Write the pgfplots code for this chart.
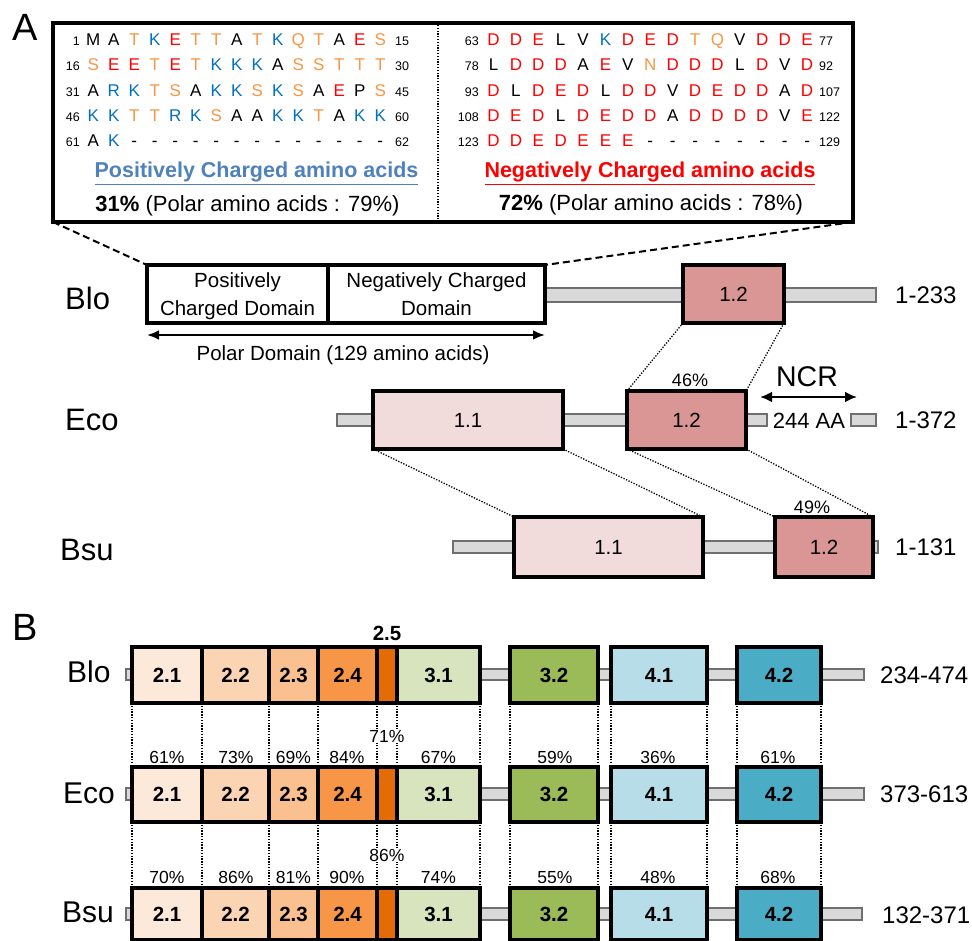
\documentclass[border=0pt]{standalone}
\usepackage{pgfplots}
\pgfplotsset{compat=1.18}
\usepackage{fontspec}
\setmainfont{Liberation Sans}
\usetikzlibrary{arrows.meta}
\definecolor{c11}{HTML}{F2DCDB}
\definecolor{c12}{HTML}{D99694}
\definecolor{c21}{HTML}{FDE9D9}
\definecolor{c22}{HTML}{FBD4B4}
\definecolor{c23}{HTML}{FAC090}
\definecolor{c24}{HTML}{F79646}
\definecolor{c25}{HTML}{E36C09}
\definecolor{c31}{HTML}{D7E4BD}
\definecolor{c32}{HTML}{9BBB59}
\definecolor{c41}{HTML}{B7DEE8}
\definecolor{c42}{HTML}{4BACC6}
\definecolor{barfill}{HTML}{D9D9D9}
\definecolor{bardraw}{HTML}{6F6F6F}
\definecolor{aaR}{HTML}{FF0000}
\definecolor{aaB}{HTML}{0070C0}
\definecolor{aaO}{HTML}{F79646}
\definecolor{headB}{HTML}{4F81BD}
\newcommand{\fs}[1]{\fontsize{#1}{#1}\selectfont}
\newlength\sw
\newcommand{\sK}[1]{\makebox[\sw][c]{\color{black}#1}}
\newcommand{\sR}[1]{\makebox[\sw][c]{\color{aaR}#1}}
\newcommand{\sB}[1]{\makebox[\sw][c]{\color{aaB}#1}}
\newcommand{\sO}[1]{\makebox[\sw][c]{\color{aaO}#1}}
\newcommand{\rect}[5]{\addplot[#5] coordinates {(#1,#3) (#2,#3) (#2,#4) (#1,#4)} --cycle;}
\pgfplotsset{
  boxst/.style={draw=black, line width=3.6pt, line join=miter, mark=none},
  barst/.style={draw=bardraw, fill=barfill, line width=1.3pt, mark=none},
  dotst/.style={draw=black, line width=1.3pt, dash pattern=on 1.3pt off 1.5pt, mark=none},
  dashst/.style={draw=black, line width=2pt, dash pattern=on 7pt off 4pt, mark=none},
}
\begin{document}
\begin{tikzpicture}
\begin{axis}[scale only axis, width=972pt, height=941pt,
  xmin=0, xmax=972, ymin=0, ymax=941, y dir=reverse, hide axis, clip=false]
% ================= Panel A =================
\node[font=\fs{38}, anchor=base west] at (axis cs:9,41) {A};
% top sequence box
\rect{53}{853}{23}{222}{boxst, fill=white}
\addplot[dotst] coordinates {(438,25) (438,220)};
% dashed connectors
\addplot[dashst] coordinates {(53,222) (147,265)};
\addplot[dashst] coordinates {(853,222) (545,265)};
% left sequence
\node[anchor=base west, font=\fs{17}, inner sep=0] at (axis cs:82.75,45.5) {\setlength\sw{20.5pt}\sK{M}\sK{A}\sO{T}\sB{K}\sR{E}\sO{T}\sO{T}\sK{A}\sO{T}\sB{K}\sO{Q}\sO{T}\sK{A}\sR{E}\sO{S}};
\node[anchor=base west, font=\fs{17}, inner sep=0] at (axis cs:82.75,70.8) {\setlength\sw{20.5pt}\sO{S}\sR{E}\sR{E}\sO{T}\sR{E}\sO{T}\sB{K}\sB{K}\sB{K}\sK{A}\sO{S}\sO{S}\sO{T}\sO{T}\sO{T}};
\node[anchor=base west, font=\fs{17}, inner sep=0] at (axis cs:82.75,96.1) {\setlength\sw{20.5pt}\sK{A}\sB{R}\sB{K}\sO{T}\sO{S}\sK{A}\sB{K}\sB{K}\sO{S}\sB{K}\sO{S}\sK{A}\sR{E}\sK{P}\sO{S}};
\node[anchor=base west, font=\fs{17}, inner sep=0] at (axis cs:82.75,121.4) {\setlength\sw{20.5pt}\sB{K}\sB{K}\sO{T}\sO{T}\sB{R}\sB{K}\sO{S}\sK{A}\sK{A}\sB{K}\sB{K}\sO{T}\sK{A}\sB{K}\sB{K}};
\node[anchor=base west, font=\fs{17}, inner sep=0] at (axis cs:82.75,146.7) {\setlength\sw{20.5pt}\sK{A}\sB{K}\sK{-}\sK{-}\sK{-}\sK{-}\sK{-}\sK{-}\sK{-}\sK{-}\sK{-}\sK{-}\sK{-}\sK{-}\sK{-}};
\node[anchor=base east, font=\fs{12.5}, inner sep=0] at (axis cs:80,45.5) {1};
\node[anchor=base east, font=\fs{12.5}, inner sep=0] at (axis cs:80,70.8) {16};
\node[anchor=base east, font=\fs{12.5}, inner sep=0] at (axis cs:80,96.1) {31};
\node[anchor=base east, font=\fs{12.5}, inner sep=0] at (axis cs:80,121.4) {46};
\node[anchor=base east, font=\fs{12.5}, inner sep=0] at (axis cs:80,146.7) {61};
\node[anchor=base west, font=\fs{12.5}, inner sep=0] at (axis cs:395,45.5) {15};
\node[anchor=base west, font=\fs{12.5}, inner sep=0] at (axis cs:395,70.8) {30};
\node[anchor=base west, font=\fs{12.5}, inner sep=0] at (axis cs:395,96.1) {45};
\node[anchor=base west, font=\fs{12.5}, inner sep=0] at (axis cs:395,121.4) {60};
\node[anchor=base west, font=\fs{12.5}, inner sep=0] at (axis cs:395,146.7) {62};
% right sequence
\node[anchor=base west, font=\fs{17}, inner sep=0] at (axis cs:482.1,45.5) {\setlength\sw{22.4pt}\sR{D}\sR{D}\sR{E}\sK{L}\sK{V}\sB{K}\sR{D}\sR{E}\sR{D}\sO{T}\sO{Q}\sK{V}\sR{D}\sR{D}\sR{E}};
\node[anchor=base west, font=\fs{17}, inner sep=0] at (axis cs:482.1,70.8) {\setlength\sw{22.4pt}\sK{L}\sR{D}\sR{D}\sR{D}\sK{A}\sR{E}\sK{V}\sO{N}\sR{D}\sR{D}\sR{D}\sK{L}\sR{D}\sK{V}\sR{D}};
\node[anchor=base west, font=\fs{17}, inner sep=0] at (axis cs:482.1,96.1) {\setlength\sw{22.4pt}\sR{D}\sK{L}\sR{D}\sR{E}\sR{D}\sK{L}\sR{D}\sR{D}\sK{V}\sR{D}\sR{E}\sR{D}\sR{D}\sK{A}\sR{D}};
\node[anchor=base west, font=\fs{17}, inner sep=0] at (axis cs:482.1,121.4) {\setlength\sw{22.4pt}\sR{D}\sR{E}\sR{D}\sK{L}\sR{D}\sR{E}\sR{D}\sR{D}\sK{A}\sR{D}\sR{D}\sR{D}\sR{D}\sK{V}\sR{E}};
\node[anchor=base west, font=\fs{17}, inner sep=0] at (axis cs:482.1,146.7) {\setlength\sw{22.4pt}\sR{D}\sR{D}\sR{E}\sR{D}\sR{E}\sR{E}\sR{E}\sK{-}\sK{-}\sK{-}\sK{-}\sK{-}\sK{-}\sK{-}\sK{-}};
\node[anchor=base east, font=\fs{12.5}, inner sep=0] at (axis cs:479,45.5) {63};
\node[anchor=base east, font=\fs{12.5}, inner sep=0] at (axis cs:479,70.8) {78};
\node[anchor=base east, font=\fs{12.5}, inner sep=0] at (axis cs:479,96.1) {93};
\node[anchor=base east, font=\fs{12.5}, inner sep=0] at (axis cs:479,121.4) {108};
\node[anchor=base east, font=\fs{12.5}, inner sep=0] at (axis cs:479,146.7) {123};
\node[anchor=base west, font=\fs{12.5}, inner sep=0] at (axis cs:819,45.5) {77};
\node[anchor=base west, font=\fs{12.5}, inner sep=0] at (axis cs:819,70.8) {92};
\node[anchor=base west, font=\fs{12.5}, inner sep=0] at (axis cs:819,96.1) {107};
\node[anchor=base west, font=\fs{12.5}, inner sep=0] at (axis cs:819,121.4) {122};
\node[anchor=base west, font=\fs{12.5}, inner sep=0] at (axis cs:819,146.7) {129};
% headings
\node[anchor=base, font=\fs{21.5}\bfseries, text=headB, inner sep=0] at (axis cs:256.5,178) {\underline{Positively Charged amino acids}};
\node[anchor=base, font=\fs{21.5}\bfseries, text=aaR, inner sep=0] at (axis cs:650,178) {\underline{Negatively Charged amino acids}};
\node[anchor=base, font=\fs{22}, inner sep=0] at (axis cs:247.5,211.5) {\textbf{31\%} (Polar amino acids : 79\%)};
\node[anchor=base, font=\fs{22}, inner sep=0] at (axis cs:651,210.5) {\textbf{72\%} (Polar amino acids : 78\%)};
% Blo row (A)
\node[anchor=base west, font=\fs{31}, inner sep=0] at (axis cs:65,310) {Blo};
\rect{545}{876}{288}{302}{barst}
\rect{147}{328}{265}{323}{boxst, fill=white}
\rect{328}{545}{265}{323}{boxst, fill=white}
\node[anchor=base, font=\fs{20.5}, inner sep=0] at (axis cs:237.5,288) {Positively};
\node[anchor=base, font=\fs{20.5}, inner sep=0] at (axis cs:237.5,316) {Charged Domain};
\node[anchor=base, font=\fs{20.5}, inner sep=0] at (axis cs:436.5,288) {Negatively Charged};
\node[anchor=base, font=\fs{20.5}, inner sep=0] at (axis cs:436.5,316) {Domain};
\addplot[draw=black, line width=2.4pt, mark=none, {Latex[length=12pt,width=10pt]}-{Latex[length=12pt,width=10pt]}] coordinates {(147,335) (545,335)};
\node[anchor=base, font=\fs{20.5}, inner sep=0] at (axis cs:343,360) {Polar Domain (129 amino acids)};
\rect{683}{784}{265}{323}{boxst, fill=c12}
\node[font=\fs{20.5}] at (axis cs:733.5,294) {1.2};
\node[anchor=west, font=\fs{24}, inner sep=0] at (axis cs:895,295) {1-233};
% connectors Blo -> Eco
\addplot[dotst] coordinates {(683,323) (627,391)};
\addplot[dotst] coordinates {(784,323) (746,391)};
% Eco row (A)
\node[anchor=base west, font=\fs{31}, inner sep=0] at (axis cs:65,430.5) {Eco};
\rect{337}{767}{414}{426}{barst}
\rect{851}{876}{414}{426}{barst}
\rect{373}{563}{391}{449}{boxst, fill=c11}
\node[font=\fs{20.5}] at (axis cs:468,420) {1.1};
\rect{627}{746}{391}{449}{boxst, fill=c12}
\node[font=\fs{20.5}] at (axis cs:686.5,420) {1.2};
\node[font=\fs{18}] at (axis cs:690,380) {46\%};
\node[font=\fs{28.5}] at (axis cs:807,377) {NCR};
\addplot[draw=black, line width=2.4pt, mark=none, {Latex[length=12pt,width=11pt]}-{Latex[length=12pt,width=11pt]}] coordinates {(760,397) (857,397)};
\node[font=\fs{22}] at (axis cs:809,421) {244 AA};
\node[anchor=west, font=\fs{24}, inner sep=0] at (axis cs:895,420) {1-372};
% connectors Eco -> Bsu
\addplot[dotst] coordinates {(373,449) (514,517)};
\addplot[dotst] coordinates {(563,449) (703,517)};
\addplot[dotst] coordinates {(627,449) (775,517)};
\addplot[dotst] coordinates {(746,449) (873,517)};
% Bsu row (A)
\node[anchor=base west, font=\fs{31}, inner sep=0] at (axis cs:60,560) {Bsu};
\rect{453}{878}{541}{553}{barst}
\rect{514}{703}{517}{577}{boxst, fill=c11}
\node[font=\fs{20.5}] at (axis cs:608.5,547) {1.1};
\rect{775}{873}{517}{577}{boxst, fill=c12}
\node[font=\fs{20.5}] at (axis cs:824,547) {1.2};
\node[font=\fs{18}] at (axis cs:812,507) {49\%};
\node[anchor=west, font=\fs{24}, inner sep=0] at (axis cs:895,547) {1-131};
% ================= Panel B =================
\node[font=\fs{38}, anchor=base west] at (axis cs:9,640) {B};
% vertical dotted connectors
\addplot[dotst] coordinates {(132,703) (132,767)};
\addplot[dotst] coordinates {(202,703) (202,767)};
\addplot[dotst] coordinates {(269,703) (269,767)};
\addplot[dotst] coordinates {(318,703) (318,767)};
\addplot[dotst] coordinates {(377,703) (377,767)};
\addplot[dotst] coordinates {(397,703) (397,767)};
\addplot[dotst] coordinates {(480,703) (480,767)};
\addplot[dotst] coordinates {(510,703) (510,767)};
\addplot[dotst] coordinates {(598,703) (598,767)};
\addplot[dotst] coordinates {(611,703) (611,767)};
\addplot[dotst] coordinates {(707,703) (707,767)};
\addplot[dotst] coordinates {(737,703) (737,767)};
\addplot[dotst] coordinates {(821,703) (821,767)};
\addplot[dotst] coordinates {(132,822) (132,888)};
\addplot[dotst] coordinates {(202,822) (202,888)};
\addplot[dotst] coordinates {(269,822) (269,888)};
\addplot[dotst] coordinates {(318,822) (318,888)};
\addplot[dotst] coordinates {(377,822) (377,888)};
\addplot[dotst] coordinates {(397,822) (397,888)};
\addplot[dotst] coordinates {(480,822) (480,888)};
\addplot[dotst] coordinates {(510,822) (510,888)};
\addplot[dotst] coordinates {(598,822) (598,888)};
\addplot[dotst] coordinates {(611,822) (611,888)};
\addplot[dotst] coordinates {(707,822) (707,888)};
\addplot[dotst] coordinates {(737,822) (737,888)};
\addplot[dotst] coordinates {(821,822) (821,888)};
% Blo row (B)
\node[anchor=base west, font=\fs{30}, inner sep=0] at (axis cs:67,682) {Blo};
\rect{126}{864}{669}{680}{barst}
\rect{132}{202}{647}{703}{boxst, fill=c21}
\rect{202}{269}{647}{703}{boxst, fill=c22}
\rect{269}{318}{647}{703}{boxst, fill=c23}
\rect{318}{377}{647}{703}{boxst, fill=c24}
\rect{377}{397}{647}{703}{boxst, fill=c25}
\rect{397}{480}{647}{703}{boxst, fill=c31}
\rect{510}{598}{647}{703}{boxst, fill=c32}
\rect{611}{707}{647}{703}{boxst, fill=c41}
\rect{737}{821}{647}{703}{boxst, fill=c42}
\node[font=\fs{20.5}\bfseries] at (axis cs:167,675) {2.1};
\node[font=\fs{20.5}\bfseries] at (axis cs:235.5,675) {2.2};
\node[font=\fs{20.5}\bfseries] at (axis cs:293.5,675) {2.3};
\node[font=\fs{20.5}\bfseries] at (axis cs:347.5,675) {2.4};
\node[font=\fs{20.5}\bfseries] at (axis cs:438.5,675) {3.1};
\node[font=\fs{20.5}\bfseries] at (axis cs:554,675) {3.2};
\node[font=\fs{20.5}\bfseries] at (axis cs:659,675) {4.1};
\node[font=\fs{20.5}\bfseries] at (axis cs:779,675) {4.2};
\node[font=\fs{20.5}\bfseries] at (axis cs:387,633) {2.5};
\node[anchor=west, font=\fs{24}, inner sep=0] at (axis cs:880,675) {234-474};
% Eco row (B)
\node[anchor=base west, font=\fs{30}, inner sep=0] at (axis cs:63,803) {Eco};
\rect{126}{864}{788}{800}{barst}
\rect{132}{202}{767}{822}{boxst, fill=c21}
\rect{202}{269}{767}{822}{boxst, fill=c22}
\rect{269}{318}{767}{822}{boxst, fill=c23}
\rect{318}{377}{767}{822}{boxst, fill=c24}
\rect{377}{397}{767}{822}{boxst, fill=c25}
\rect{397}{480}{767}{822}{boxst, fill=c31}
\rect{510}{598}{767}{822}{boxst, fill=c32}
\rect{611}{707}{767}{822}{boxst, fill=c41}
\rect{737}{821}{767}{822}{boxst, fill=c42}
\node[font=\fs{20.5}\bfseries] at (axis cs:167,794.5) {2.1};
\node[font=\fs{20.5}\bfseries] at (axis cs:235.5,794.5) {2.2};
\node[font=\fs{20.5}\bfseries] at (axis cs:293.5,794.5) {2.3};
\node[font=\fs{20.5}\bfseries] at (axis cs:347.5,794.5) {2.4};
\node[font=\fs{20.5}\bfseries] at (axis cs:438.5,794.5) {3.1};
\node[font=\fs{20.5}\bfseries] at (axis cs:554,794.5) {3.2};
\node[font=\fs{20.5}\bfseries] at (axis cs:659,794.5) {4.1};
\node[font=\fs{20.5}\bfseries] at (axis cs:779,794.5) {4.2};
\node[anchor=west, font=\fs{24}, inner sep=0] at (axis cs:880,794) {373-613};
\node[anchor=base, font=\fs{17.5}, fill=white, inner sep=1pt] at (axis cs:167,763) {61\%};
\node[anchor=base, font=\fs{17.5}, fill=white, inner sep=1pt] at (axis cs:236,763) {73\%};
\node[anchor=base, font=\fs{17.5}, fill=white, inner sep=1pt] at (axis cs:293.5,763) {69\%};
\node[anchor=base, font=\fs{17.5}, fill=white, inner sep=1pt] at (axis cs:347,763) {84\%};
\node[anchor=base, font=\fs{17.5}, fill=white, inner sep=1pt] at (axis cs:387,742) {71\%};
\node[anchor=base, font=\fs{17.5}, fill=white, inner sep=1pt] at (axis cs:438.5,763) {67\%};
\node[anchor=base, font=\fs{17.5}, fill=white, inner sep=1pt] at (axis cs:555,763) {59\%};
\node[anchor=base, font=\fs{17.5}, fill=white, inner sep=1pt] at (axis cs:658,763) {36\%};
\node[anchor=base, font=\fs{17.5}, fill=white, inner sep=1pt] at (axis cs:778,763) {61\%};
% Bsu row (B)
\node[anchor=base west, font=\fs{30}, inner sep=0] at (axis cs:62,922) {Bsu};
\rect{126}{862}{908}{920}{barst}
\rect{132}{202}{888}{940}{boxst, fill=c21}
\rect{202}{269}{888}{940}{boxst, fill=c22}
\rect{269}{318}{888}{940}{boxst, fill=c23}
\rect{318}{377}{888}{940}{boxst, fill=c24}
\rect{377}{397}{888}{940}{boxst, fill=c25}
\rect{397}{480}{888}{940}{boxst, fill=c31}
\rect{510}{598}{888}{940}{boxst, fill=c32}
\rect{611}{707}{888}{940}{boxst, fill=c41}
\rect{737}{821}{888}{940}{boxst, fill=c42}
\node[font=\fs{20.5}\bfseries] at (axis cs:167,914) {2.1};
\node[font=\fs{20.5}\bfseries] at (axis cs:235.5,914) {2.2};
\node[font=\fs{20.5}\bfseries] at (axis cs:293.5,914) {2.3};
\node[font=\fs{20.5}\bfseries] at (axis cs:347.5,914) {2.4};
\node[font=\fs{20.5}\bfseries] at (axis cs:438.5,914) {3.1};
\node[font=\fs{20.5}\bfseries] at (axis cs:554,914) {3.2};
\node[font=\fs{20.5}\bfseries] at (axis cs:659,914) {4.1};
\node[font=\fs{20.5}\bfseries] at (axis cs:779,914) {4.2};
\node[anchor=west, font=\fs{24}, inner sep=0] at (axis cs:882,915) {132-371};
\node[anchor=base, font=\fs{17.5}, fill=white, inner sep=1pt] at (axis cs:167,883) {70\%};
\node[anchor=base, font=\fs{17.5}, fill=white, inner sep=1pt] at (axis cs:236,883) {86\%};
\node[anchor=base, font=\fs{17.5}, fill=white, inner sep=1pt] at (axis cs:293.5,883) {81\%};
\node[anchor=base, font=\fs{17.5}, fill=white, inner sep=1pt] at (axis cs:347,883) {90\%};
\node[anchor=base, font=\fs{17.5}, fill=white, inner sep=1pt] at (axis cs:387,861) {86\%};
\node[anchor=base, font=\fs{17.5}, fill=white, inner sep=1pt] at (axis cs:438.5,883) {74\%};
\node[anchor=base, font=\fs{17.5}, fill=white, inner sep=1pt] at (axis cs:555,883) {55\%};
\node[anchor=base, font=\fs{17.5}, fill=white, inner sep=1pt] at (axis cs:658,883) {48\%};
\node[anchor=base, font=\fs{17.5}, fill=white, inner sep=1pt] at (axis cs:778,883) {68\%};
\end{axis}
\pgfresetboundingbox
\path (current axis.south west) rectangle (current axis.north east);
\end{tikzpicture}
\end{document}
